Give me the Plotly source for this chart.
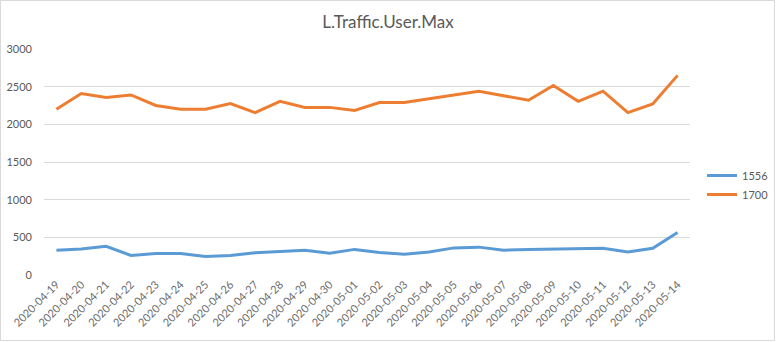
import plotly.graph_objects as go

dates = [
    "2020-04-19", "2020-04-20", "2020-04-21", "2020-04-22", "2020-04-23",
    "2020-04-24", "2020-04-25", "2020-04-26", "2020-04-27", "2020-04-28",
    "2020-04-29", "2020-04-30", "2020-05-01", "2020-05-02", "2020-05-03",
    "2020-05-04", "2020-05-05", "2020-05-06", "2020-05-07", "2020-05-08",
    "2020-05-09", "2020-05-10", "2020-05-11", "2020-05-12", "2020-05-13",
    "2020-05-14",
]
cell_1556 = [330, 345, 380, 260, 285, 285, 245, 260, 295, 315,
             330, 290, 340, 300, 275, 305, 360, 370, 330, 340,
             345, 345, 355, 305, 355, 565]
cell_1700 = [2200, 2410, 2355, 2390, 2250, 2200, 2200, 2275, 2155, 2305,
             2225, 2225, 2185, 2290, 2290, 2340, 2390, 2440, 2380, 2320,
             2515, 2305, 2440, 2155, 2270, 2650]
y_ticks = [0, 500, 1000, 1500, 2000, 2500, 3000]

W, H = 776, 342
L, R, T, B = 44, 86, 49, 67
pw, ph = W - L - R, H - T - B
FONT = "Lato, Open Sans, sans-serif"
GREY = "#595959"

fig = go.Figure()
fig.add_trace(go.Scatter(x=dates, y=cell_1556, name="1556", mode="lines",
                         line=dict(color="#5B9BD5", width=3)))
fig.add_trace(go.Scatter(x=dates, y=cell_1700, name="1700", mode="lines",
                         line=dict(color="#ED7D31", width=3)))

fig.update_layout(
    width=W, height=H,
    margin=dict(l=L, r=R, t=T, b=B, autoexpand=False),
    paper_bgcolor="white", plot_bgcolor="white",
    font=dict(family=FONT, size=11, color=GREY),
    title=dict(text="L.Traffic.User.Max", x=388 / W, xanchor="center",
               y=1 - 22 / H, yanchor="middle",
               font=dict(family=FONT, size=17, color=GREY)),
    showlegend=True,
    legend=dict(x=(702 - L) / pw, y=1 - (161 - T) / ph, xanchor="left",
                yanchor="top", font=dict(size=11, color=GREY),
                bgcolor="rgba(0,0,0,0)", itemwidth=30, tracegroupgap=7),
    xaxis=dict(type="category", range=[-0.5, len(dates) - 0.5],
               tickangle=-45, showgrid=False, showline=False, zeroline=False,
               ticks="", automargin=False,
               tickfont=dict(size=11, color="#6b6b6b")),
    yaxis=dict(range=[0, 3000], tickvals=y_ticks, showgrid=True,
               gridcolor="#D9D9D9", gridwidth=1, zeroline=False,
               showline=False, ticks="", ticklabelstandoff=11,
               automargin=False, tickfont=dict(size=11, color=GREY)),
    shapes=[dict(type="rect", xref="paper", yref="paper",
                 x0=(0.5 - L) / pw, x1=(W - 1.5 - L) / pw,
                 y0=1 - (H - 1.5 - T) / ph, y1=1 - (0.5 - T) / ph,
                 line=dict(color="#D9D9D9", width=1), layer="below")],
)

fig.write_html("out.html")
